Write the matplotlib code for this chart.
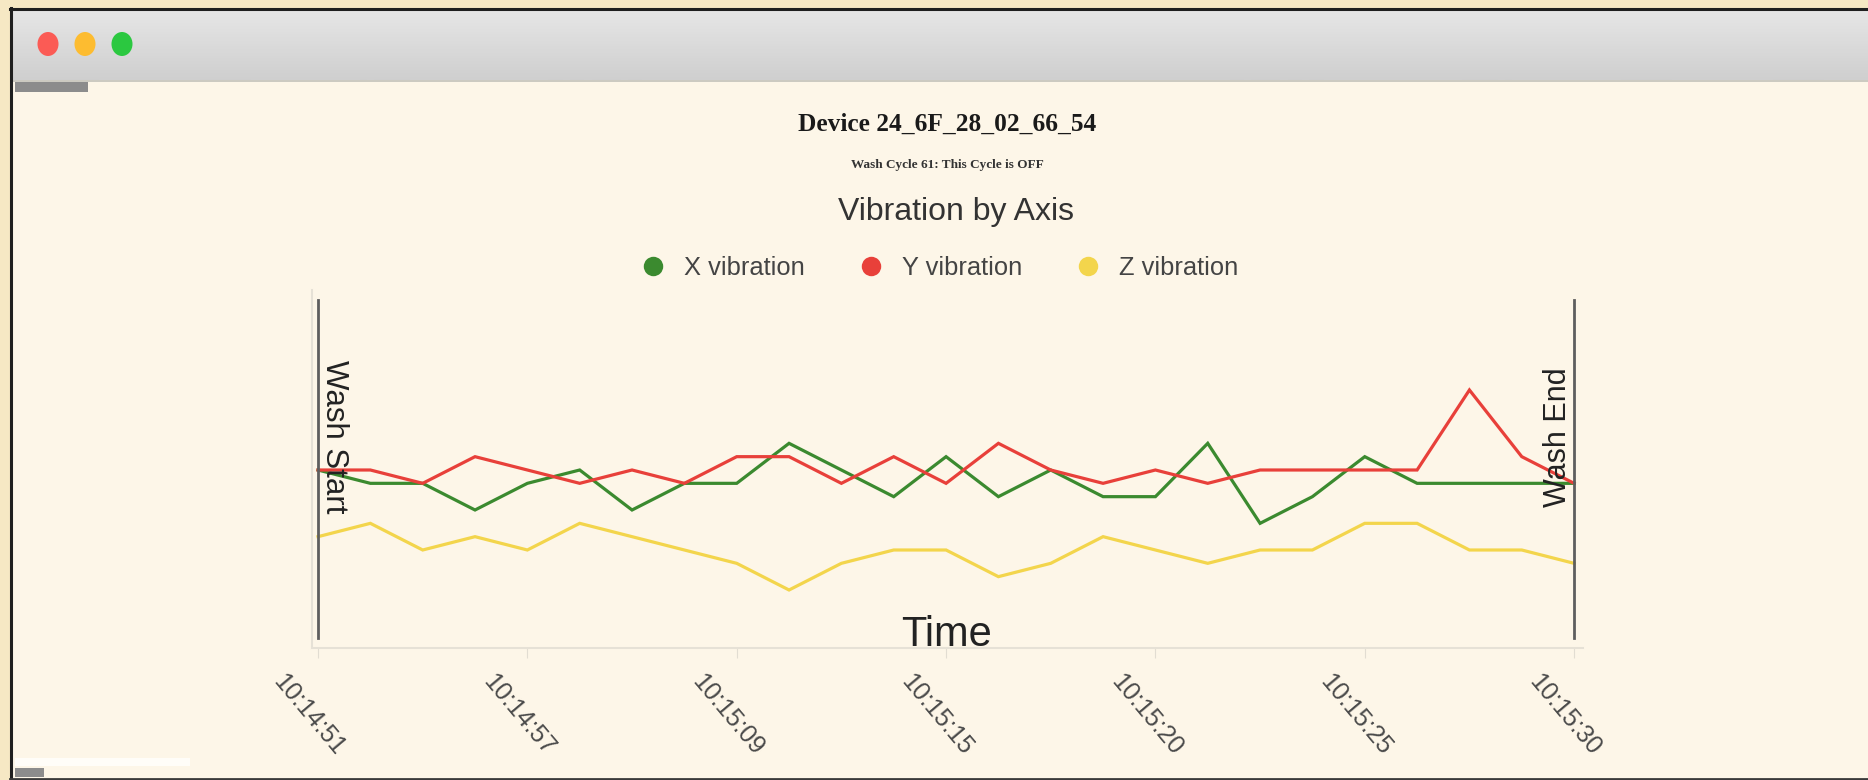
import matplotlib
matplotlib.use('Agg')
import matplotlib.pyplot as plt
import matplotlib.transforms as mtransforms
from matplotlib.patches import Rectangle, Ellipse
from matplotlib.lines import Line2D
import numpy as np

# data (one sample per reading, 25 readings)
x_vib = [13, 12, 12, 10, 12, 13, 10, 12, 12, 15, 13, 11, 14, 11, 13, 11, 11, 15, 9, 11, 14, 12, 12, 12, 12]
y_vib = [13, 13, 12, 14, 13, 12, 13, 12, 14, 14, 12, 14, 12, 15, 13, 12, 13, 12, 13, 13, 13, 13, 19, 14, 12]
z_vib = [8, 9, 7, 8, 7, 9, 8, 7, 6, 4, 6, 7, 7, 5, 6, 8, 7, 6, 7, 7, 9, 9, 7, 7, 6]
tick_labels = ['10:14:51', '10:14:57', '10:15:09', '10:15:15', '10:15:20', '10:15:25', '10:15:30']
series_names = ['X vibration', 'Y vibration', 'Z vibration']
series_colors = ['#3b8a2f', '#e8403a', '#f3d54c']

W, H = 1868, 780
plt.rcParams['font.family'] = ['Liberation Sans', 'DejaVu Sans']

fig = plt.figure(figsize=(W / 100, H / 100), dpi=100, facecolor='#f6e8c4')

# ---- window chrome (screenshot frame) ----
bg = fig.add_axes([0, 0, 1, 1], zorder=-5)
bg.set_xlim(0, W)
bg.set_ylim(H, 0)
bg.axis('off')
bg.add_patch(Rectangle((12, 10), W, H, fc='#fdf6e8', ec='none'))
grad = np.linspace(0, 1, 64).reshape(-1, 1)
bg.imshow(grad, cmap=matplotlib.colors.LinearSegmentedColormap.from_list('tb', ['#e6e6e6', '#cfcfcf']),
          extent=[12, W, 80, 10], aspect='auto', zorder=1)
bg.plot([12, W], [80.5, 80.5], color='#c3c2ba', lw=1.2, zorder=2)
bg.plot([11, 11], [8, H], color='#1f1f1f', lw=2.2, zorder=3)
bg.plot([10, W], [9, 9], color='#1f1f1f', lw=2.2, zorder=3)
bg.plot([10, W], [778.5, 778.5], color='#3a3a3a', lw=2.0, zorder=3)
for cx, c in zip([48, 85, 122], ['#fb5b55', '#fdbc30', '#2bc840']):
    bg.add_patch(Ellipse((cx, 44), 21, 24, fc=c, ec='none', zorder=4))
bg.add_patch(Rectangle((15, 82), 73, 10, fc='#8c8c8c', ec='none', zorder=4))
bg.add_patch(Rectangle((15, 758), 175, 8, fc='#fffdf8', ec='none', zorder=4))
bg.add_patch(Rectangle((15, 768), 29, 9, fc='#8c8c8c', ec='none', zorder=4))

# ---- chart ----
ax = fig.add_axes([312 / W, (H - 648) / H, (1583 - 312) / W, (648 - 290) / H])
ax.set_facecolor('none')
idx = np.arange(len(x_vib))
for vals, name, col in zip([x_vib, y_vib, z_vib], series_names, series_colors):
    ax.plot(idx, vals, color=col, lw=2.3, label=name, solid_joinstyle='miter')

ax.set_xlim(-0.115, len(x_vib) - 1 + 0.17)
ax.set_ylim(-0.35, 26.5)
ax.set_yticks([])
ax.set_xticks(idx[::4])
ax.set_xticklabels(tick_labels, rotation=-50, ha='center', fontsize=18, color='#4a4a4a')
ax.tick_params(axis='x', length=7, color='#e2ddd2', pad=9)
shift = mtransforms.ScaledTranslation(-9 / 100, 0, fig.dpi_scale_trans)
for lab in ax.get_xticklabels():
    lab.set_transform(lab.get_transform() + shift)
for s in ['top', 'right']:
    ax.spines[s].set_visible(False)
for s in ['left', 'bottom']:
    ax.spines[s].set_color('#e6e1d6')
    ax.spines[s].set_linewidth(1.5)

# wash start / end markers
ax.axvline(idx[0], ymin=0.028, ymax=0.972, color='#5e5e5e', lw=2)
ax.axvline(idx[-1], ymin=0.028, ymax=0.972, color='#5e5e5e', lw=2)
trans = mtransforms.blended_transform_factory(ax.transData, ax.transAxes)
ax.text(idx[0] + 0.02, 0.59, 'Wash Start', rotation=-90, ha='left', va='center',
        fontsize=22.5, color='#222222', transform=trans)
ax.text(idx[-1] - 0.02, 0.59, 'Wash End', rotation=90, ha='right', va='center',
        fontsize=22, color='#222222', transform=trans)
ax.text(idx[len(idx) // 2], 0.005, 'Time', ha='center', va='baseline',
        fontsize=30, color='#222222', transform=trans)

# ---- headings ----
fig.text(0.507, 1 - 124 / H, 'Device 24_6F_28_02_66_54', ha='center', va='center',
         fontsize=18.3, fontweight='bold', family='Liberation Serif', color='#1a1a1a')
fig.text(0.507, 1 - 165 / H, 'Wash Cycle 61: This Cycle is OFF', ha='center', va='center',
         fontsize=9.5, fontweight='bold', family='Liberation Serif', color='#333333')
fig.text(956 / W, 1 - 212 / H, 'Vibration by Axis', ha='center', va='center',
         fontsize=23, color='#333333')

handles = [Line2D([], [], ls='none', marker='o', markersize=14, color=c, markeredgewidth=0)
           for c in series_colors]
fig.legend(handles, series_names, loc='center', bbox_to_anchor=(0.5028, 1 - 268 / H),
           ncol=3, frameon=False, fontsize=18.4, handlelength=1.0, handletextpad=0.7,
           columnspacing=2.1, labelcolor='#444444')

fig.savefig('out.png', dpi=100, facecolor=fig.get_facecolor())
